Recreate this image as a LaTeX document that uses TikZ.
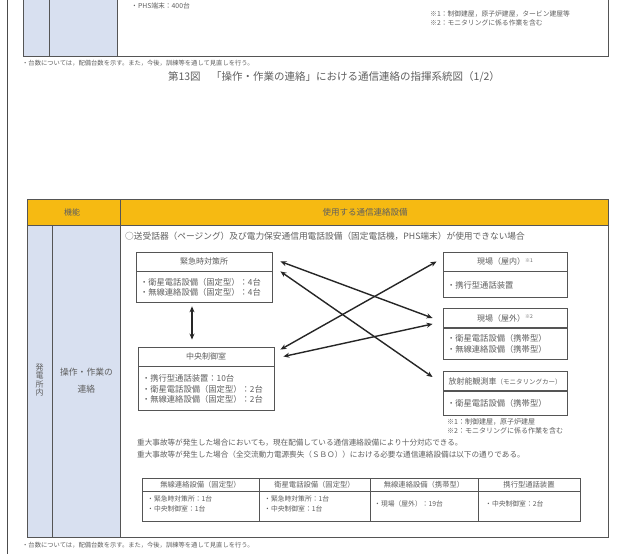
\documentclass[tikz,border=0pt]{standalone}
\usepackage{fontspec}
\setmainfont{Noto Sans CJK JP}
\usetikzlibrary{arrows.meta, positioning}

\definecolor{hdrorange}{RGB}{246,186,18}
\definecolor{colblue}{RGB}{216,224,240}
\definecolor{inkgray}{RGB}{95,95,95}
\definecolor{rulegray}{RGB}{85,85,85}
\newcommand{\fsz}[1]{\fontsize{#1}{1.25\dimexpr#1pt\relax}\selectfont}
\newcommand{\kome}[1]{\raisebox{2.5pt}{\fontsize{5}{5}\selectfont ※#1}}

\begin{document}
\begin{tikzpicture}[
    x=1pt, y=-1pt,
    every node/.style={text=inkgray, inner sep=0pt},
    boxtitle/.style={draw=rulegray, line width=0.9pt, minimum height=19pt, font=\fsz{8}},
    boxbody/.style={draw=rulegray, line width=0.9pt, align=left, inner xsep=4pt,
      font=\fontsize{8.3}{10.3}\selectfont, below=0pt of #1},
    rule/.style={draw=rulegray, line width=1pt},
    thinrule/.style={draw=rulegray, line width=0.6pt},
    link/.style={{Stealth[length=6pt,width=5pt]}-{Stealth[length=6pt,width=5pt]},
      line width=1.4pt, black!85}
  ]
  \useasboundingbox (0,0) rectangle (619,554);
  \fill[white] (0,0) rectangle (619,554);
  \draw[draw=black!70, line width=0.8pt] (7,0) -- (7,554);

  % upper table (end of the previous page)
  \fill[colblue] (23,-5) rectangle (117,56);
  \draw[rule] (23,-5) rectangle (608,56);
  \draw[rule] (49,-5) -- (49,56);
  \draw[rule] (117,-5) -- (117,56);
  \node[anchor=west, font=\fsz{6.8}] (phs) at (131,6) {・PHS端末：400台};
  \node[anchor=north west, align=left, font=\fontsize{6.8}{8.5}\selectfont] (topnotes) at (430,11)
    {※1：制御建屋，原子炉建屋，タービン建屋等\\※2：モニタリングに係る作業を含む};
  \node[anchor=west, font=\fsz{6.3}] (topfoot) at (22,63)
    {・台数については，配備台数を示す。また，今後，訓練等を通して見直しを行う。};
  \node[font=\fsz{10.5}] (caption) at (334,77)
    {第13図\quad「操作・作業の連絡」における通信連絡の指揮系統図（1/2）};

  % lower table frame
  \fill[colblue] (27,225) rectangle (120,537);
  \fill[hdrorange] (27,199) rectangle (608,225);
  \draw[rule] (27,199) rectangle (608,537);
  \draw[rule] (27,225) -- (608,225);
  \draw[rule] (52,225) -- (52,537);
  \draw[rule] (120,199) -- (120,537);
  \node[font=\fsz{8}] (hfunc) at (72,212) {機能};
  \node[font=\fsz{8.5}] (hequip) at (365,212) {使用する通信連絡設備};
  \node[align=center, font=\fontsize{8}{8.6}\selectfont] (site) at (39.5,380) {発\\電\\所\\内};
  \node[align=center, font=\fontsize{8.8}{17}\selectfont] (task) at (86.5,381) {操作・作業の\\連絡};
  \node[anchor=west, font=\fsz{8.7}] (cond) at (125,236)
    {○送受話器（ページング）及び電力保安通信用電話設備（固定電話機，PHS端末）が使用できない場合};

  % boxes
  \node[boxtitle, minimum width=136pt] (kinkyuT) at (204,261.5) {緊急時対策所};
  \node[boxbody=kinkyuT, text width=128pt, minimum height=31pt] (kinkyuB)
    {・衛星電話設備（固定型）：4台\\・無線連絡設備（固定型）：4台};
  \node[boxtitle, minimum width=136pt] (chuoT) at (206,356.5) {中央制御室};
  \node[boxbody=chuoT, text width=128pt, minimum height=44pt] (chuoB)
    {・携行型通話装置：10台\\・衛星電話設備（固定型）：2台\\・無線連絡設備（固定型）：2台};

  \node[boxtitle, minimum width=124pt] (okunaiT) at (505,261.5) {現場（屋内）\kome{1}};
  \node[boxbody=okunaiT, text width=116pt, minimum height=26pt] (okunaiB)
    {・携行型通話装置};
  \node[boxtitle, minimum width=124pt] (okugaiT) at (505,318) {現場（屋外）\kome{2}};
  \node[boxbody=okugaiT, text width=116pt, minimum height=31pt] (okugaiB)
    {・衛星電話設備（携帯型）\\・無線連絡設備（携帯型）};
  \node[boxtitle, minimum width=124pt] (hoshaT) at (505,381)
    {放射能観測車{\fontsize{6.5}{6.5}\selectfont（モニタリングカー）}};
  \node[boxbody=hoshaT, text width=116pt, minimum height=24pt] (hoshaB)
    {・衛星電話設備（携帯型）};
  \node[anchor=north west, align=left, font=\fontsize{7}{9}\selectfont] (boxnotes)
    at (447,418) {※1：制御建屋，原子炉建屋\\※2：モニタリングに係る作業を含む};

  % links
  \draw[link] ([xshift=-12pt,yshift=-3pt]kinkyuB.south) -- ([xshift=-14pt,yshift=7pt]chuoT.north);
  \draw[link] ([xshift=8pt]kinkyuT.east) -- ([xshift=-10pt]okugaiT.west);
  \draw[link] ([xshift=8pt]kinkyuT.south east) -- ([xshift=-10pt,yshift=4pt]hoshaT.west);
  \draw[link] ([xshift=6pt,yshift=-3pt]chuoT.north east) -- ([xshift=-6pt]okunaiT.west);
  \draw[link] ([xshift=9pt]chuoT.east) -- ([xshift=-10pt,yshift=4pt]okugaiT.south west);

  \node[anchor=north west, align=left, font=\fontsize{7.6}{11.5}\selectfont] (remark)
    at (137,439) {重大事故等が発生した場合においても，現在配備している通信連絡設備により十分対応できる。\\
    重大事故等が発生した場合（全交流動力電源喪失（ＳＢＯ））における必要な通信連絡設備は以下の通りである。};

  % count table
  \draw[rule] (142,478) rectangle (580,521);
  \draw[thinrule] (142,491) -- (580,491);
  \foreach \x in {259,370,478}
    \draw[thinrule] (\x,478) -- (\x,521);
  \node[font=\fsz{7.3}] (th1) at (200.5,484.5) {無線連絡設備（固定型）};
  \node[font=\fsz{7.3}] (th2) at (314.5,484.5) {衛星電話設備（固定型）};
  \node[font=\fsz{7.3}] (th3) at (424,484.5) {無線連絡設備（携帯型）};
  \node[font=\fsz{7.3}] (th4) at (529,484.5) {携行型通話装置};
  \node[anchor=west, align=left, font=\fontsize{6.8}{9.5}\selectfont] (td1) at (147,504)
    {・緊急時対策所：1台\\・中央制御室：1台};
  \node[anchor=west, align=left, font=\fontsize{6.8}{9.5}\selectfont] (td2) at (264,504)
    {・緊急時対策所：1台\\・中央制御室：1台};
  \node[anchor=west, font=\fsz{6.8}] (td3) at (374,504) {・現場（屋外）：19台};
  \node[anchor=west, font=\fsz{6.8}] (td4) at (485,504) {・中央制御室：2台};

  \node[anchor=west, font=\fsz{6.3}] (bottomfoot) at (22,545)
    {・台数については，配備台数を示す。また，今後，訓練等を通して見直しを行う。};
\end{tikzpicture}
\end{document}
